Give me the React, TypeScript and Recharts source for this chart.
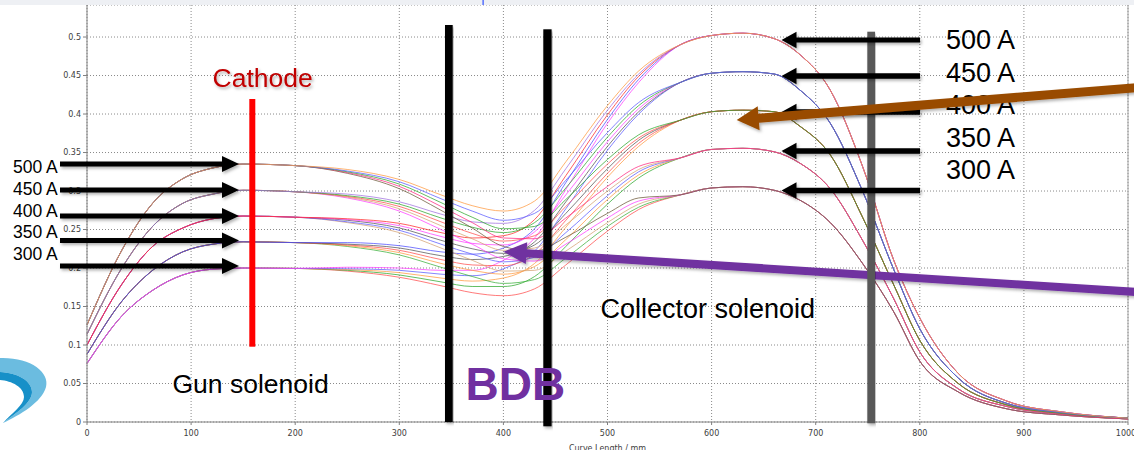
import React from 'react';
import { LineChart, Line, XAxis, YAxis, CartesianGrid, ReferenceLine } from 'recharts';

// Magnetic field on axis (T) vs curve length (mm), 5 gun currents x 5 collector currents

const gunNames = ['300 A', '350 A', '400 A', '450 A', '500 A'];
const collNames = ['300 A', '350 A', '400 A', '450 A', '500 A'];

// gun region: curves with the same gun current lie on top of each other
const xLeft = [0, 33, 63, 92, 121, 150, 200];
const gun300 = [0.076, 0.137, 0.171, 0.191, 0.1985, 0.2, 0.1995];
const gun350 = [0.088, 0.156, 0.197, 0.221, 0.231, 0.234, 0.233];
const gun400 = [0.1, 0.178, 0.228, 0.252, 0.264, 0.2675, 0.266];
const gun450 = [0.114, 0.199, 0.254, 0.284, 0.296, 0.301, 0.299];
const gun500 = [0.126, 0.222, 0.284, 0.316, 0.33, 0.335, 0.333];

// BDB region: every gun/collector pair separates
const xMid = [250, 300, 340, 370, 400, 430, 460, 500, 530];
const mid300_300 = [0.196, 0.188, 0.177, 0.168, 0.164, 0.173, 0.204, 0.248, 0.276];
const mid300_350 = [0.197, 0.191, 0.182, 0.176, 0.176, 0.189, 0.228, 0.283, 0.317];
const mid300_400 = [0.198, 0.194, 0.187, 0.183, 0.187, 0.206, 0.253, 0.318, 0.358];
const mid300_450 = [0.199, 0.197, 0.192, 0.19, 0.199, 0.222, 0.277, 0.353, 0.4];
const mid300_500 = [0.201, 0.2, 0.197, 0.197, 0.21, 0.239, 0.302, 0.388, 0.441];
const mid350_300 = [0.228, 0.217, 0.201, 0.189, 0.18, 0.185, 0.213, 0.254, 0.279];
const mid350_350 = [0.229, 0.22, 0.206, 0.197, 0.192, 0.202, 0.237, 0.289, 0.321];
const mid350_400 = [0.23, 0.223, 0.211, 0.204, 0.203, 0.218, 0.262, 0.323, 0.362];
const mid350_450 = [0.231, 0.226, 0.216, 0.211, 0.215, 0.234, 0.286, 0.358, 0.403];
const mid350_500 = [0.233, 0.229, 0.221, 0.218, 0.226, 0.251, 0.311, 0.393, 0.445];
const mid400_300 = [0.259, 0.246, 0.226, 0.21, 0.196, 0.197, 0.222, 0.259, 0.283];
const mid400_350 = [0.26, 0.249, 0.231, 0.218, 0.208, 0.214, 0.246, 0.294, 0.325];
const mid400_400 = [0.262, 0.252, 0.236, 0.225, 0.219, 0.23, 0.271, 0.329, 0.366];
const mid400_450 = [0.263, 0.255, 0.241, 0.232, 0.23, 0.247, 0.295, 0.364, 0.407];
const mid400_500 = [0.264, 0.258, 0.246, 0.239, 0.242, 0.263, 0.32, 0.399, 0.449];
const mid450_300 = [0.291, 0.274, 0.25, 0.231, 0.212, 0.209, 0.231, 0.265, 0.287];
const mid450_350 = [0.292, 0.277, 0.255, 0.238, 0.223, 0.226, 0.256, 0.3, 0.328];
const mid450_400 = [0.293, 0.28, 0.26, 0.245, 0.235, 0.242, 0.28, 0.335, 0.369];
const mid450_450 = [0.294, 0.283, 0.265, 0.253, 0.246, 0.259, 0.304, 0.37, 0.411];
const mid450_500 = [0.296, 0.286, 0.27, 0.26, 0.258, 0.275, 0.329, 0.405, 0.452];
const mid500_300 = [0.323, 0.303, 0.275, 0.252, 0.228, 0.222, 0.24, 0.271, 0.291];
const mid500_350 = [0.324, 0.306, 0.28, 0.259, 0.239, 0.238, 0.265, 0.306, 0.332];
const mid500_400 = [0.325, 0.309, 0.285, 0.266, 0.251, 0.254, 0.289, 0.341, 0.373];
const mid500_450 = [0.326, 0.312, 0.29, 0.274, 0.262, 0.271, 0.314, 0.376, 0.415];
const mid500_500 = [0.328, 0.315, 0.295, 0.281, 0.274, 0.287, 0.338, 0.411, 0.456];

// collector region: curves with the same collector current coincide
const xRight = [570, 600, 630, 660, 685, 714, 745, 775, 800, 837, 884, 937, 1000];
const coll300 = [0.295, 0.304, 0.3056, 0.301, 0.288, 0.259, 0.206, 0.143, 0.079, 0.039, 0.017, 0.009, 0.004];
const coll350 = [0.343, 0.354, 0.3555, 0.351, 0.336, 0.303, 0.236, 0.16, 0.091, 0.043, 0.02, 0.01, 0.004];
const coll400 = [0.392, 0.403, 0.405, 0.403, 0.384, 0.347, 0.266, 0.178, 0.106, 0.05, 0.022, 0.011, 0.005];
const coll450 = [0.441, 0.453, 0.455, 0.452, 0.431, 0.388, 0.3, 0.198, 0.121, 0.057, 0.024, 0.012, 0.005];
const coll500 = [0.49, 0.502, 0.505, 0.498, 0.477, 0.431, 0.332, 0.21, 0.135, 0.063, 0.027, 0.013, 0.005];

const xTicks = [0, 100, 200, 300, 400, 500, 600, 700, 800, 900, 1000];
const yTicks = [0, 0.05, 0.1, 0.15, 0.2, 0.25, 0.3, 0.35, 0.4, 0.45, 0.5];

const gunLeft = [gun300, gun350, gun400, gun450, gun500];
const collRight = [coll300, coll350, coll400, coll450, coll500];
const midTable = [
  [mid300_300, mid300_350, mid300_400, mid300_450, mid300_500],
  [mid350_300, mid350_350, mid350_400, mid350_450, mid350_500],
  [mid400_300, mid400_350, mid400_400, mid400_450, mid400_500],
  [mid450_300, mid450_350, mid450_400, mid450_450, mid450_500],
  [mid500_300, mid500_350, mid500_400, mid500_450, mid500_500],
];

const lineColors = [
  ['#ff4d4d', '#2ea82e', '#ff9a40', '#5b5bff', '#ff3dff'],
  ['#3cb03c', '#ff9a40', '#ff4d4d', '#555555', '#4d4dff'],
  ['#d4a373', '#5b5bff', '#555555', '#ff3dff', '#ff2a2a'],
  ['#ff3dff', '#d4a373', '#ff4d4d', '#2ea82e', '#a070e0'],
  ['#6e5a3a', '#ff2a80', '#2ea82e', '#5b5bff', '#ff9a40'],
];

const xs = [...xLeft, ...xMid, ...xRight];
const rows = xs.map((x, k) => {
  const row: Record<string, number> = { x };
  gunNames.forEach((_, i) => {
    collNames.forEach((_, j) => {
      const vals = [...gunLeft[i], ...midTable[i][j], ...collRight[j]];
      row[`s${i}${j}`] = vals[k];
    });
  });
  return row;
});

const font = '"Liberation Sans", Arial, sans-serif';

function arrowPoints(x1: number, y1: number, x2: number, y2: number, w: number, hw: number, hl: number) {
  const dx = x2 - x1, dy = y2 - y1;
  const len = Math.hypot(dx, dy);
  const ux = dx / len, uy = dy / len;
  const px = -uy, py = ux;
  const bx = x2 - ux * hl, by = y2 - uy * hl;
  const p = [
    [x1 + px * w / 2, y1 + py * w / 2],
    [bx + px * w / 2, by + py * w / 2],
    [bx + px * hw, by + py * hw],
    [x2, y2],
    [bx - px * hw, by - py * hw],
    [bx - px * w / 2, by - py * w / 2],
    [x1 - px * w / 2, y1 - py * w / 2],
  ];
  return p.map((q) => q[0].toFixed(1) + ',' + q[1].toFixed(1)).join(' ');
}

const leftArrowY = [164, 190, 216, 240.5, 266];
const rightArrowY = [40, 76, 112, 151, 190.5];
const rightLabelY = [49, 81.5, 114, 146.5, 179];
const leftLabelY = [173, 195, 216.5, 238, 260];
const labels = ['500 A', '450 A', '400 A', '350 A', '300 A'];

function Overlay() {
  return (
    <svg width={1134} height={450} style={{ position: 'absolute', left: 0, top: 0, pointerEvents: 'none' }}>
      <defs>
        <filter id="shadow" x="-10%" y="-50%" width="120%" height="200%">
          <feDropShadow dx="1.5" dy="2" stdDeviation="1.5" floodColor="#000" floodOpacity="0.3" />
        </filter>
      </defs>
      <rect x={0} y={0} width={1134} height={5} fill="#eef0f4" />
      <rect x={482.5} y={0} width={1.2} height={5} fill="#3050ff" />

      {/* logo swoosh */}
      <path d="M0,358 C30,357 50,372 46,387 C42,402 20,415 3,423 C16,413 32,403 32,392 C32,381 18,373 0,372 Z" fill="#6bbce0" />
      <path d="M0,372 C18,373 32,381 32,392 C32,403 16,413 3,423 C12,413 24,405 24,397 C24,387 12,381 0,380 Z" fill="#1790c8" />

      {/* collector arrow and vertical markers */}
      <polygon points={arrowPoints(1145, 292.5, 503.5, 251.7, 8, 11, 23)} fill="#7030a0" filter="url(#shadow)" />
      <rect x={867.3} y={31.7} width={7.7} height={391.6} fill="#595959" filter="url(#shadow)" />
      <rect x={445} y={25} width={7.7} height={397} fill="#000" filter="url(#shadow)" />
      <rect x={543.3} y={29.3} width={8.3} height={397} fill="#000" filter="url(#shadow)" />
      <rect x={249.3} y={99} width={6} height={247.7} fill="#ff0000" />

      {leftArrowY.map((y) => (
        <polygon key={'l' + y} points={arrowPoints(60, y, 239, y, 5, 8, 17)} fill="#000" filter="url(#shadow)" />
      ))}
      {rightArrowY.map((y) => (
        <polygon key={'r' + y} points={arrowPoints(920, y, 781.5, y, 5.3, 8.3, 15)} fill="#000" filter="url(#shadow)" />
      ))}

      {labels.map((t, i) => (
        <text key={'lt' + t} x={13} y={leftLabelY[i]} fontSize={17.5} fontFamily={font} fill="#000">{t}</text>
      ))}
      {labels.map((t, i) => (
        <text key={'rt' + t} x={946} y={rightLabelY[i]} fontSize={27} fontFamily={font} fill="#000">{t}</text>
      ))}

      <polygon points={arrowPoints(1145, 87, 736.7, 120, 9, 12, 22)} fill="#994c00" filter="url(#shadow)" />

      <text x={212.5} y={87.3} fontSize={26.5} fontFamily={font} fill="#c00000" filter="url(#shadow)">Cathode</text>
      <text x={172.5} y={393.3} fontSize={26.5} fontFamily={font} fill="#000">Gun solenoid</text>
      <text x={600.5} y={318.3} fontSize={27} fontFamily={font} fill="#000">Collector solenoid</text>
      <text x={465.5} y={400} fontSize={46} fontWeight="bold" fontFamily={font} fill="#7030a0">BDB</text>
      <text x={607.5} y={450.5} fontSize={8} textAnchor="middle" fontFamily="DejaVu Sans, sans-serif" fill="#404040">Curve Length / mm</text>
    </svg>
  );
}

export default function App() {
  const series: { key: string; color: string }[] = [];
  gunNames.forEach((_, i) => {
    collNames.forEach((_, j) => {
      series.push({ key: `s${i}${j}`, color: lineColors[i][j] });
    });
  });

  return (
    <div style={{ position: 'absolute', left: 0, top: 0, width: 1134, height: 450, background: '#fff', overflow: 'hidden' }}>
      <LineChart width={1134} height={450} data={rows} margin={{ top: 5, right: 6, left: 0, bottom: 0 }}>
        <CartesianGrid stroke="#8a8a8a" strokeDasharray="1 2" />
        <XAxis
          dataKey="x"
          type="number"
          domain={[0, 1000]}
          ticks={xTicks}
          height={28}
          tickSize={3}
          tickMargin={5}
          axisLine={{ stroke: '#808080' }}
          tickLine={{ stroke: '#808080' }}
          tick={{ fontSize: 8, fill: '#404040', fontFamily: 'DejaVu Sans, sans-serif' }}
        />
        <YAxis
          type="number"
          domain={[0, 0.5416]}
          ticks={yTicks}
          width={87}
          tickSize={4}
          tickMargin={2}
          axisLine={{ stroke: '#808080' }}
          tickLine={{ stroke: '#808080' }}
          tick={{ fontSize: 8, fill: '#404040', fontFamily: 'DejaVu Sans, sans-serif' }}
        />
        <ReferenceLine x={1000} stroke="#a0a0a0" />
        {series.map((s) => (
          <Line
            key={s.key}
            dataKey={s.key}
            type="monotone"
            stroke={s.color}
            strokeWidth={1}
            strokeOpacity={0.75}
            dot={false}
            activeDot={false}
            isAnimationActive={false}
          />
        ))}
      </LineChart>
      <Overlay />
    </div>
  );
}
